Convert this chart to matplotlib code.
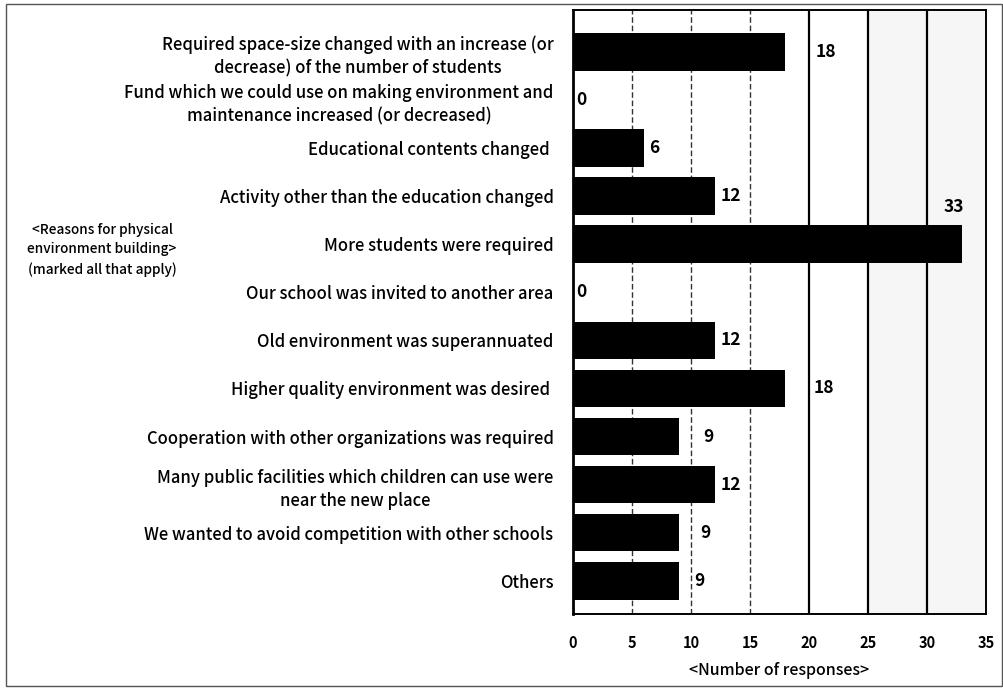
import matplotlib
matplotlib.use("Agg")
import matplotlib.pyplot as plt
from matplotlib.patches import Rectangle

plt.rcParams['font.family'] = ['Noto Sans CJK JP', 'DejaVu Sans']

categories = [
    "Required space-size changed with an increase (or\ndecrease) of the number of students",
    "Fund which we could use on making environment and\nmaintenance increased (or decreased)",
    "Educational contents changed ",
    "Activity other than the education changed",
    "More students were required",
    "Our school was invited to another area",
    "Old environment was superannuated",
    "Higher quality environment was desired ",
    "Cooperation with other organizations was required",
    "Many public facilities which children can use were\nnear the new place",
    "We wanted to avoid competition with other schools",
    "Others",
]
values = [18, 0, 6, 12, 33, 0, 12, 18, 9, 12, 9, 9]
x_ticks = [0, 5, 10, 15, 20, 25, 30, 35]
x_label = "<Number of responses>"
side_note = "<Reasons for physical\nenvironment building>\n(marked all that apply)"

# label offsets (points) for value annotations
label_dx = [22, 2, 4, 4, 0, 2, 4, 20, 17, 4, 15, 11]

fig = plt.figure(figsize=(10.04, 6.88), dpi=100)
ax = fig.add_axes([573/1004, 1-614/688, (986-573)/1004, (614-10)/688])

ypos = list(range(len(categories)))
ax.barh(ypos, values, height=0.78, color='black', zorder=3)
ax.set_xlim(0, 35)
ax.set_ylim(11.69, -0.87)

# grid lines
for xv in x_ticks[1:-1]:
    if xv <= 15:
        ax.axvline(xv, color='#333333', lw=1.0, ls=(0, (4, 2)), zorder=1)
    else:
        ax.axvline(xv, color='black', lw=1.6, zorder=1)

# light shading for right part
ax.axvspan(25, 35, color='#f6f6f6', zorder=0)

ax.set_yticks(ypos)
ax.set_yticklabels(categories, fontsize=12, fontweight='medium', multialignment='center',
                   linespacing=1.4)
ax.tick_params(axis='y', length=0, pad=14)
ax.set_xticks(x_ticks)
ax.set_xticklabels([str(t) for t in x_ticks], fontsize=10.5, fontweight='bold')
ax.tick_params(axis='x', length=0, pad=15)
ax.set_xlabel(x_label, fontsize=11.5, fontweight='medium', labelpad=8)

for sp in ax.spines.values():
    sp.set_color('black')
    sp.set_linewidth(1.4)
ax.spines['left'].set_linewidth(2.0)

for i, (v, dx) in enumerate(zip(values, label_dx)):
    if v == max(values):
        ax.annotate(str(v), (v, i), xytext=(-6, 20), textcoords='offset points',
                    ha='center', va='bottom', fontsize=12.5, fontweight='bold')
    else:
        ax.annotate(str(v), (v, i), xytext=(dx, 0), textcoords='offset points',
                    ha='left', va='center', fontsize=12.5, fontweight='bold')

fig.text(102/1004, 1-250/688, side_note, ha='center', va='center', fontsize=9.8,
         fontweight='medium', linespacing=1.5)

# outer frame
fig.patches.append(Rectangle((6/1004, 2/688), 1-8/1004, 1-6/688, transform=fig.transFigure,
                             fill=False, edgecolor='#555555', lw=1.0))

fig.savefig("out.png", dpi=100)
